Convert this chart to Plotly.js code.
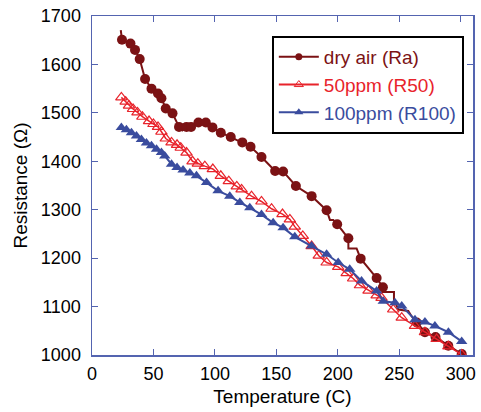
<!DOCTYPE html>
<html><head><meta charset="utf-8">
<script src="https://cdn.plot.ly/plotly-3.0.1.min.js"></script>
<style>html,body{margin:0;padding:0;background:#fff}#chart{width:481px;height:412px}</style>
</head><body><div id="chart"></div>
<script>
// dry air (Ra): full line path and marker points
const airPathT = [23.4,24.4,31.3,35.0,38.8,43.2,48.4,53.7,56.5,60.0,65.5,70.8,73.5,76.9,80.6,86.6,92.6,98.0,104.8,112.9,122.3,129.0,137.9,149.0,155.5,165.9,178.7,190.9,193.6,196.3,199.5,208.6,208.6,215.3,218.6,231.6,236.7,236.5,245.7,245.7,249.2,257.3,260.0,264.2,270.9,279.5,289.9,300.8];
const airPathR = [1671,1651,1643,1630,1611,1570,1550,1540,1530,1509,1499,1471,1464,1471,1471,1480,1480,1470,1459,1450,1439,1430,1409,1380,1379,1349,1328,1299,1279,1279,1270,1241,1220,1220,1199,1159,1140,1130,1130,1115,1094,1091,1080,1067,1047,1037,1019,1002];
const airT = [24.4,31.3,35.0,38.8,43.2,48.4,53.7,56.5,60.0,65.5,70.8,76.9,80.6,86.6,92.6,98.0,104.8,112.9,122.3,129.0,137.9,149.0,155.5,165.9,178.7,190.9,199.5,208.6,218.6,231.6,236.7,264.2,270.9,279.5,289.9,300.8];
const airR = [1651,1643,1630,1611,1570,1550,1540,1530,1509,1499,1471,1471,1471,1480,1480,1470,1459,1450,1439,1430,1409,1380,1379,1349,1328,1299,1270,1241,1199,1159,1140,1067,1047,1037,1019,1002];

// 50ppm (R50)
const r50T = [23.9,27.4,30.1,33.4,37.0,41.0,46.4,50.0,53.7,56.5,60.0,64.7,69.2,72.2,76.9,81.8,86.1,91.8,98.3,104.8,111.3,117.8,121.7,129.8,137.9,146.1,155.0,161.0,165.0,171.5,178.7,184.5,190.9,200.3,207.2,212.5,218.0,225.0,231.6,235.6,245.1,252.0,262.8,270.9,280.4,290.0,300.8];
const r50R = [1532,1523,1515,1508,1501,1492,1483,1477,1471,1461,1447,1439,1434,1428,1418,1400,1395,1390,1384,1370,1359,1348,1342,1328,1317,1302,1291,1280,1265,1246,1225,1205,1191,1182,1169,1158,1144,1133,1123,1118,1094,1077,1060,1047,1033,1018,1001];

// 100ppm (R100)
const r100T = [23.9,28.0,32.1,36.2,40.2,44.3,48.4,52.5,56.5,59.2,64.7,69.2,74.1,79.6,85.0,93.2,102.6,112.1,120.3,128.4,137.9,147.4,155.5,165.0,178.7,190.9,200.3,209.7,219.3,231.6,237.0,246.5,252.0,262.8,270.9,279.0,290.0,300.8];
const r100R = [1470,1465,1459,1452,1445,1438,1432,1425,1418,1411,1394,1387,1382,1376,1370,1356,1339,1328,1315,1304,1290,1273,1263,1244,1225,1208,1191,1177,1153,1132,1111,1108,1101,1073,1068,1060,1047,1028];

const names = ['dry air (Ra)','50ppm (R50)','100ppm (R100)'];
const cAir = '#7b1214', c50 = '#e8232b', c100 = '#3a4c9e';

const traces = [
  {x: airPathT, y: airPathR, mode: 'lines', line: {color: cAir, width: 2}, showlegend: false, hoverinfo: 'skip'},
  {x: airT, y: airR, mode: 'markers', marker: {color: cAir, size: 10, symbol: 'circle'}, showlegend: false},
  {x: r50T, y: r50R, mode: 'lines+markers', line: {color: c50, width: 1.5},
   marker: {color: c50, size: 10, symbol: 'triangle-up-open', line: {width: 1.2}}, showlegend: false},
  {x: r100T, y: r100R, mode: 'lines+markers', line: {color: c100, width: 2},
   marker: {color: c100, size: 10, symbol: 'triangle-up'}, showlegend: false},
  {x: [null], y: [null], mode: 'lines+markers', name: '<span style="color:'+cAir+'">'+names[0]+'</span>',
   line: {color: cAir, width: 2}, marker: {color: cAir, size: 7, symbol: 'circle'}},
  {x: [null], y: [null], mode: 'lines+markers', name: '<span style="color:'+c50+'">'+names[1]+'</span>',
   line: {color: c50, width: 2}, marker: {color: c50, size: 8, symbol: 'triangle-up-open'}},
  {x: [null], y: [null], mode: 'lines+markers', name: '<span style="color:'+c100+'">'+names[2]+'</span>',
   line: {color: c100, width: 2}, marker: {color: c100, size: 8, symbol: 'triangle-up'}}
];

const axisCol = '#5464b0';
const layout = {
  width: 481, height: 412,
  margin: {l: 92, r: 8, t: 16, b: 57},
  paper_bgcolor: '#fff', plot_bgcolor: '#fff',
  font: {family: 'Liberation Sans, Arial, sans-serif', size: 18, color: '#000'},
  xaxis: {range: [0, 310], tickvals: [0,50,100,150,200,250,300], ticks: 'inside', ticklen: 6,
          tickcolor: axisCol, showline: true, linecolor: axisCol, linewidth: 1.5, mirror: 'ticks',
          showgrid: false, zeroline: false, ticklabelstandoff: 2, tickfont: {size: 18},
          title: {text: 'Temperature (C)', font: {size: 19}, standoff: 6}},
  yaxis: {range: [1000, 1700], dtick: 100, ticks: 'inside', ticklen: 6,
          tickcolor: axisCol, showline: true, linecolor: axisCol, linewidth: 1.5, mirror: 'ticks',
          showgrid: false, zeroline: false, ticklabelstandoff: 6, tickfont: {size: 18},
          title: {text: 'Resistance (Ω)', font: {size: 19}, standoff: 8}},
  legend: {x: 0.472, y: 0.941, xanchor: 'left', yanchor: 'top', bordercolor: '#000', borderwidth: 2,
           bgcolor: '#fff', font: {size: 19}, tracegroupgap: 0, itemwidth: 40},
  showlegend: true
};
Plotly.newPlot('chart', traces, layout, {staticPlot: true});
</script></body></html>
